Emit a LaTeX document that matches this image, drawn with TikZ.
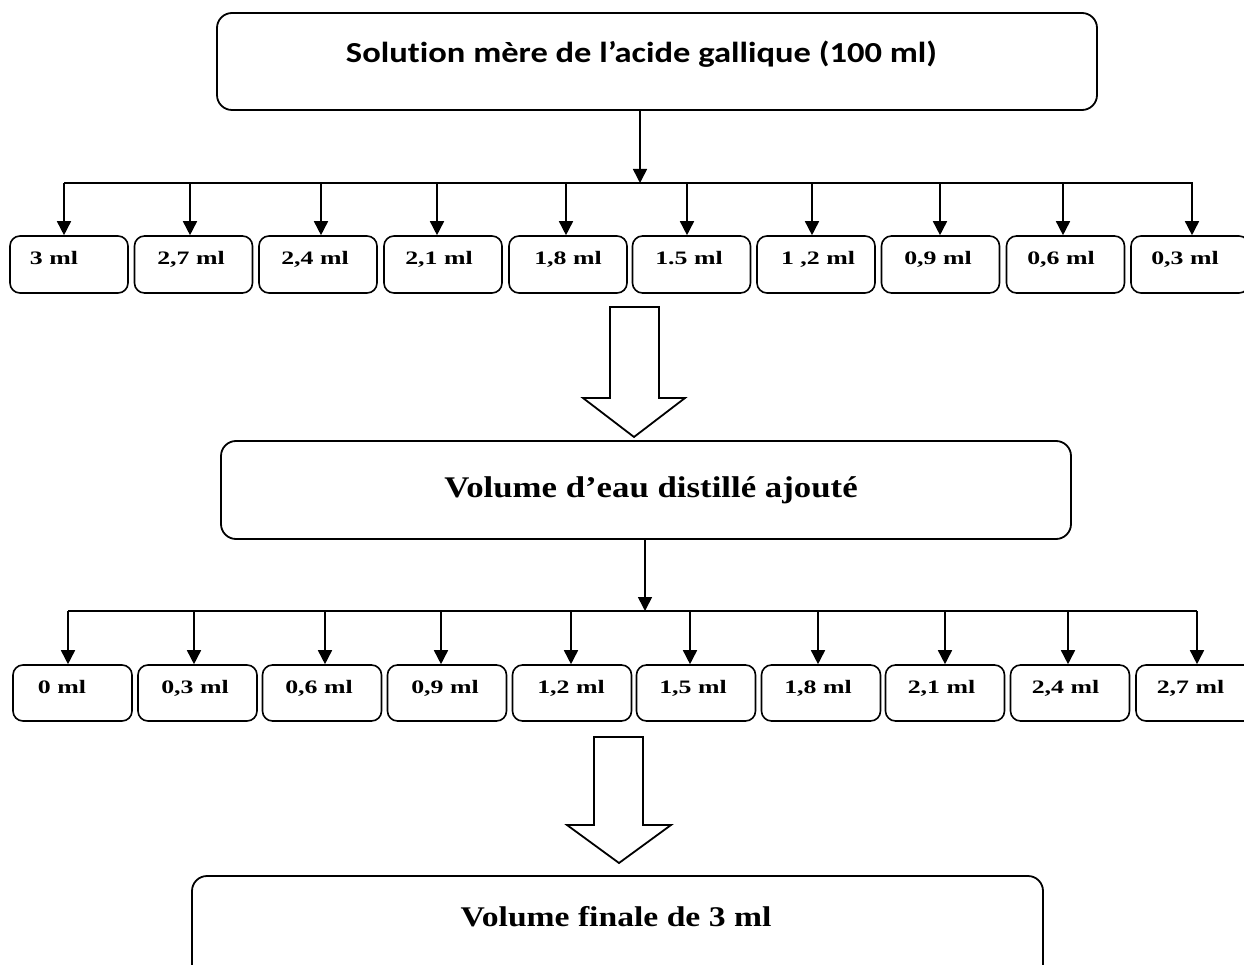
\documentclass[tikz,border=0pt]{standalone}
\usepackage{fontspec}
\usetikzlibrary{arrows.meta}
\newfontfamily\topfont[FakeStretch=1.19,Ligatures=NoCommon]{Carlito}
\newfontfamily\midfont[FakeStretch=1.16]{Liberation Serif}
\newfontfamily\botfont[FakeStretch=1.18]{Liberation Serif}
\newfontfamily\rowfont[FakeStretch=1.36]{Liberation Serif}
\begin{document}
\begin{tikzpicture}[x=1pt,y=-1pt,
  bigbox/.style={draw,line width=1.8pt,rounded corners=15pt,inner sep=0pt},
  smallbox/.style={draw,line width=1.6pt,rounded corners=10pt,inner sep=0pt},
  rowtxt/.style={inner sep=0pt,anchor=base,font=\rowfont\bfseries\fontsize{19}{21}\selectfont},
  conn/.style={line width=1.6pt},
  arr/.style={conn,-{Triangle[width=14pt,length=14pt]}},
  hollow/.style={draw,line width=1.8pt,fill=white,line join=miter}]
\clip (0,0) rectangle (1244,965);
\fill[white] (0,0) rectangle (1244,965);

% top box
\node[bigbox,minimum width=880pt,minimum height=97pt] (top) at (657,61.5) {};
\node[inner sep=0pt,anchor=base,font=\topfont\bfseries\fontsize{29}{31}\selectfont] (toptxt) at (641.5,63) {Solution mère de l’acide gallique (100 ml)};

% bus 1
\coordinate (bus1L) at (64,183);
\coordinate (bus1R) at (1193,183);
\coordinate (bj1) at (640,183);
\draw[conn] (bus1L) -- (bus1R);
\draw[arr] (top.south -| bj1) -- (bj1);

% row 1 boxes
\foreach \i/\c in {1/69,2/193.5,3/318,4/443,5/568,6/691.5,7/816,8/940.5,9/1065.5,10/1190}
  \node[smallbox,minimum width=118pt,minimum height=57pt] (a\i) at (\c,264.5) {};
\foreach \i/\x/\t in {1/54/{3 ml},2/191/{2,7 ml},3/315/{2,4 ml},4/439/{2,1 ml},5/568/{1,8 ml},6/689/{1.5 ml},7/818/{1 ,2 ml},8/938/{0,9 ml},9/1061/{0,6 ml},10/1185/{0,3 ml}}
  \node[rowtxt] (at\i) at (\x,264.5) {\t};
\foreach \i/\x in {1/64,2/190,3/321,4/437,5/566,6/687,7/812,8/940,9/1063,10/1192}
  {\coordinate (p\i) at (\x,183);
   \draw[arr] (p\i) -- (p\i |- a\i.north);}

% hollow arrow 1
\draw[hollow] (610,307) -- (659,307) -- (659,398) -- (685,398) -- (634,437) -- (583,398) -- (610,398) -- cycle;

% middle box
\node[bigbox,minimum width=850pt,minimum height=98pt] (mid) at (646,490) {};
\node[inner sep=0pt,anchor=base,font=\midfont\bfseries\fontsize{30}{32}\selectfont] (midtxt) at (651,497) {Volume d’eau distillé ajouté};

% bus 2
\coordinate (bus2L) at (68,611);
\coordinate (bus2R) at (1197,611);
\coordinate (bj2) at (645,611);
\draw[conn] (bus2L) -- (bus2R);
\draw[arr] (mid.south -| bj2) -- (bj2);

% row 2 boxes
\foreach \i/\c in {1/72.5,2/197.5,3/322,4/447,5/572,6/696,7/821,8/945,9/1070,10/1195.5}
  \node[smallbox,minimum width=119pt,minimum height=56pt] (b\i) at (\c,693) {};
\foreach \i/\x/\t in {1/62/{0 ml},2/195/{0,3 ml},3/319/{0,6 ml},4/445/{0,9 ml},5/571/{1,2 ml},6/693/{1,5 ml},7/818/{1,8 ml},8/941.5/{2,1 ml},9/1065.5/{2,4 ml},10/1190.5/{2,7 ml}}
  \node[rowtxt] (bt\i) at (\x,693.5) {\t};
\foreach \i/\x in {1/68,2/194,3/325,4/441,5/571,6/690,7/818,8/945,9/1068,10/1197}
  {\coordinate (q\i) at (\x,611);
   \draw[arr] (q\i) -- (q\i |- b\i.north);}

% hollow arrow 2
\draw[hollow] (594,737) -- (643,737) -- (643,825) -- (671,825) -- (619,863) -- (567,825) -- (594,825) -- cycle;

% bottom box
\node[bigbox,minimum width=851pt,minimum height=109pt] (bot) at (617.5,930.5) {};
\node[inner sep=0pt,anchor=base,font=\botfont\bfseries\fontsize{28.5}{30}\selectfont] (bottxt) at (616,926) {Volume finale de 3 ml};
\end{tikzpicture}
\end{document}
